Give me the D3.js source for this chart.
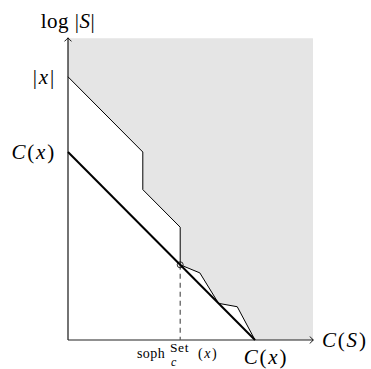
<!DOCTYPE html>
<html><head><meta charset="utf-8">
<script src="https://cdn.jsdelivr.net/npm/d3@7"></script>
<style>body{margin:0;background:#fff}svg{display:block}</style>
</head><body><svg id="c" width="371" height="369" font-family="'Liberation Serif', 'DejaVu Serif', serif"></svg>
<script>
// data (abstract units: C(x)=10)
const upperX = [0, 4, 4, 6, 6, 7.05, 8.05, 9.05, 10];
const upperY = [14, 10, 8, 6, 4, 3.57, 1.95, 1.77, 0];
const thickX = [0, 10];
const thickY = [10, 0];
const sophX = 6, sophY = 4;
const domainX = [0, 13.1], domainY = [0, 16.05];

const svg = d3.select("#c");
const x = d3.scaleLinear([0, 10], [68, 255]);
const y = d3.scaleLinear([0, 10], [340, 152]);
const line = d3.line().x(d => x(d[0])).y(d => y(d[1]));
const upper = upperX.map((v, i) => [v, upperY[i]]);
const thick = thickX.map((v, i) => [v, thickY[i]]);

// gray region above upper curve
const region = [[0, domainY[1]], [domainX[1], domainY[1]], [domainX[1], 0]].concat(upper.slice().reverse());
svg.append("path").attr("d", line(region) + "Z").attr("fill", "#e5e5e5");

// axes
svg.append("line").attr("x1", x(0)).attr("x2", x(0)).attr("y1", y(0)).attr("y2", y(domainY[1]) ).attr("stroke", "#000").attr("stroke-width", 1.1);
svg.append("line").attr("x1", x(0)).attr("x2", x(domainX[1])).attr("y1", y(0)).attr("y2", y(0)).attr("stroke", "#222").attr("stroke-width", 1.1);
// arrow heads
const ax = x(domainX[1]), ay = y(domainY[1]);
svg.append("path").attr("d", `M${ax-3},${y(0)-3.5} Q${ax-1},${y(0)-0.8} ${ax+0.5},${y(0)} Q${ax-1},${y(0)+0.8} ${ax-3},${y(0)+3.5}`).attr("fill", "none").attr("stroke", "#000").attr("stroke-width", 0.9);
svg.append("path").attr("d", `M${x(0)-3.5},${ay+3} Q${x(0)-0.8},${ay+1} ${x(0)},${ay-0.5} Q${x(0)+0.8},${ay+1} ${x(0)+3.5},${ay+3}`).attr("fill", "none").attr("stroke", "#000").attr("stroke-width", 0.9);

// dashed soph line
svg.append("line").attr("x1", x(sophX)).attr("x2", x(sophX)).attr("y1", y(sophY)).attr("y2", y(0))
  .attr("stroke", "#555").attr("stroke-width", 1.2).attr("stroke-dasharray", "5,4");

// curves
svg.append("path").attr("d", line(upper)).attr("fill", "none").attr("stroke", "#000").attr("stroke-width", 1);
svg.append("path").attr("d", line(thick)).attr("fill", "none").attr("stroke", "#000").attr("stroke-width", 2);
svg.append("circle").attr("cx", x(sophX)).attr("cy", y(sophY)).attr("r", 3).attr("fill", "none").attr("stroke", "#000").attr("stroke-width", 0.8);

// labels
function math(t, parts, size, ls) {
  parts.forEach(p => t.append("tspan").text(p[0]).attr("font-style", p[1] ? "italic" : "normal"));
  t.attr("font-size", size).attr("letter-spacing", ls || 0).attr("fill", "#000");
  return t;
}
math(svg.append("text").attr("x", x(0)).attr("y", 28).attr("text-anchor", "middle"),
  [["log |", 0], ["S", 1], ["|", 0]], 21, 0.5);
math(svg.append("text").attr("x", 56).attr("y", y(14)).attr("dy", "0.33em").attr("text-anchor", "end"),
  [["|", 0], ["x", 1], ["|", 0]], 21, 1.8);
math(svg.append("text").attr("x", 56).attr("y", y(10)).attr("dy", "0.33em").attr("text-anchor", "end"),
  [["C", 1], ["(", 0], ["x", 1], [")", 0]], 21, 1.8);
math(svg.append("text").attr("x", 322).attr("y", y(0)).attr("dy", "0.33em").attr("text-anchor", "start"),
  [["C", 1], ["(", 0], ["S", 1], [")", 0]], 21, 1.8);
math(svg.append("text").attr("x", x(10) + 11).attr("y", 364).attr("text-anchor", "middle"),
  [["C", 1], ["(", 0], ["x", 1], [")", 0]], 21, 1.8);

// soph label
const g = svg.append("g").attr("transform", "translate(137,358)");
math(g.append("text").attr("x", 0).attr("y", 0), [["soph", 0]], 14, 0.4);
math(g.append("text").attr("x", 33).attr("y", -6.5), [["Set", 0]], 13.5, 0.6);
math(g.append("text").attr("x", 34).attr("y", 8), [["c", 1]], 12, 0);
math(g.append("text").attr("x", 61).attr("y", 0), [["(", 0], ["x", 1], [")", 0]], 14, 1.5);
</script></body></html>
